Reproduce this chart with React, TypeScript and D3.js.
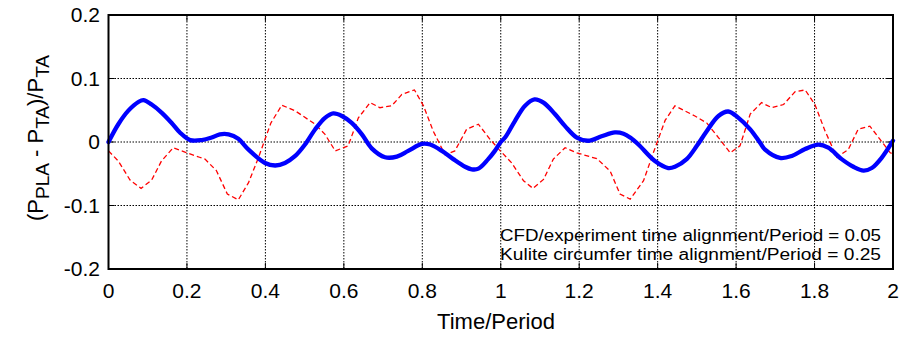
import React from "react";
import * as d3 from "d3";

const xTicks = [0, 0.2, 0.4, 0.6, 0.8, 1, 1.2, 1.4, 1.6, 1.8, 2];
const xTickLabels = ["0", "0.2", "0.4", "0.6", "0.8", "1", "1.2", "1.4", "1.6", "1.8", "2"];
const yTicks = [-0.2, -0.1, 0, 0.1, 0.2];
const yTickLabels = ["-0.2", "-0.1", "0", "0.1", "0.2"];

const cfdTime = [
  0.0, 0.025, 0.05, 0.076, 0.089, 0.11, 0.136, 0.161, 0.182, 0.208, 0.238, 0.263, 0.284, 0.306, 0.331,
  0.357, 0.399, 0.425, 0.45, 0.476, 0.501, 0.527, 0.552, 0.573, 0.595, 0.62, 0.646, 0.671, 0.705, 0.735,
  0.764, 0.799, 0.82, 0.85, 0.879, 0.909, 0.926, 0.943, 0.968, 0.985, 1.0,
  1.011, 1.036, 1.062, 1.086, 1.109, 1.138, 1.164, 1.194, 1.223, 1.257, 1.291, 1.313, 1.33, 1.351, 1.393,
  1.427, 1.444, 1.474, 1.5, 1.525, 1.555, 1.58, 1.606, 1.636, 1.661, 1.674, 1.712, 1.742, 1.776, 1.81,
  1.835, 1.869, 1.899, 1.925, 1.946, 1.971, 2.0,
];
const cfdValues = [
  0.0, 0.028, 0.049, 0.063, 0.066, 0.059, 0.046, 0.03, 0.015, 0.003, 0.003, 0.007, 0.012, 0.012, 0.005,
  -0.012, -0.033, -0.037, -0.033, -0.022, -0.004, 0.02, 0.038, 0.045, 0.041, 0.03, 0.012, -0.01, -0.024, -0.023,
  -0.014, -0.003, -0.004, -0.014, -0.027, -0.039, -0.043, -0.042, -0.027, -0.014, 0.0,
  0.007, 0.033, 0.057, 0.067, 0.062, 0.044, 0.025, 0.007, 0.002, 0.009, 0.015, 0.013, 0.007, -0.004, -0.03,
  -0.041, -0.039, -0.027, -0.006, 0.017, 0.041, 0.048, 0.038, 0.02, -0.001, -0.012, -0.025, -0.022, -0.011, -0.004,
  -0.009, -0.027, -0.039, -0.045, -0.041, -0.025, 0.002,
];

const expTime = [
  0.0, 0.025, 0.055, 0.083, 0.11, 0.135, 0.165, 0.195, 0.232, 0.246, 0.275, 0.303, 0.331, 0.357, 0.382,
  0.414, 0.442, 0.476, 0.527, 0.552, 0.578, 0.611, 0.637, 0.667, 0.692, 0.722, 0.748, 0.78, 0.803, 0.828,
  0.858, 0.883, 0.913, 0.943, 0.973, 0.996,
  1.028, 1.058, 1.082, 1.109, 1.134, 1.164, 1.194, 1.232, 1.245, 1.279, 1.304, 1.33, 1.364, 1.389, 1.419,
  1.444, 1.495, 1.525, 1.555, 1.585, 1.61, 1.636, 1.665, 1.691, 1.721, 1.75, 1.776, 1.801, 1.827, 1.857,
  1.886, 1.911, 1.941, 1.967, 1.993, 2.0,
];
const expValues = [
  -0.014, -0.03, -0.06, -0.073, -0.06, -0.03, -0.009, -0.016, -0.024, -0.027, -0.045, -0.082, -0.091, -0.064, -0.025,
  0.03, 0.058, 0.049, 0.028, 0.012, -0.014, -0.006, 0.038, 0.062, 0.054, 0.057, 0.075, 0.082, 0.057, 0.017,
  -0.02, -0.014, 0.02, 0.028, 0.004, -0.012,
  -0.033, -0.061, -0.073, -0.059, -0.027, -0.009, -0.017, -0.024, -0.026, -0.046, -0.082, -0.09, -0.061, -0.017, 0.034,
  0.057, 0.041, 0.03, 0.007, -0.017, -0.006, 0.044, 0.062, 0.054, 0.059, 0.079, 0.082, 0.059, 0.017, -0.024,
  -0.012, 0.02, 0.025, 0.004, -0.017, -0.019,
];

const W = 903;
const H = 337;
const L = 108.5;
const R = 893;
const T = 15;
const B = 269;
const FONT = "Arial, 'Liberation Sans', Helvetica, sans-serif";

export default function App() {
  const x = d3.scaleLinear().domain([0, 2]).range([L, R]);
  const y = d3.scaleLinear().domain([-0.2, 0.2]).range([B, T]);

  const cfd = cfdTime.map((t, i) => [t, cfdValues[i]] as [number, number]);
  const exp = expTime.map((t, i) => [t, expValues[i]] as [number, number]);

  const smooth = d3
    .line<[number, number]>()
    .x((d) => x(d[0]))
    .y((d) => y(d[1]))
    .curve(d3.curveCatmullRom.alpha(0.5));
  const lin = d3
    .line<[number, number]>()
    .x((d) => x(d[0]))
    .y((d) => y(d[1]));

  return (
    <svg
      width={W}
      height={H}
      style={{ position: "absolute", left: 0, top: 0, background: "#fff" }}
      fontFamily={FONT}
    >
      <rect x={0} y={0} width={W} height={H} fill="#fff" />
      {/* grid */}
      {xTicks.slice(1, -1).map((t) => (
        <line key={"gx" + t} x1={x(t)} x2={x(t)} y1={T} y2={B} stroke="#000" strokeWidth={1} strokeDasharray="1.5,1.5" />
      ))}
      {yTicks.slice(1, -1).map((t) => (
        <line key={"gy" + t} x1={L} x2={R} y1={y(t)} y2={y(t)} stroke="#000" strokeWidth={1} strokeDasharray="1.5,1.5" />
      ))}
      {/* ticks */}
      {xTicks.map((t) => (
        <g key={"tx" + t}>
          <line x1={x(t)} x2={x(t)} y1={B} y2={B - 6} stroke="#000" strokeWidth={1} />
          <line x1={x(t)} x2={x(t)} y1={T} y2={T + 6} stroke="#000" strokeWidth={1} />
        </g>
      ))}
      {yTicks.map((t) => (
        <g key={"ty" + t}>
          <line x1={L} x2={L + 6} y1={y(t)} y2={y(t)} stroke="#000" strokeWidth={1} />
          <line x1={R} x2={R - 6} y1={y(t)} y2={y(t)} stroke="#000" strokeWidth={1} />
        </g>
      ))}
      {/* lines */}
      <path d={lin(exp) || ""} fill="none" stroke="#ff0000" strokeWidth={1.3} strokeDasharray="5,3" />
      <path d={smooth(cfd) || ""} fill="none" stroke="#0000ff" strokeWidth={4.3} strokeLinejoin="round" strokeLinecap="round" />
      {/* box */}
      <rect x={L} y={T} width={R - L} height={B - T} fill="none" stroke="#000" strokeWidth={2} />
      {/* tick labels */}
      {xTicks.map((t, i) => (
        <text key={"lx" + t} x={x(t)} y={298} fontSize={21} textAnchor="middle" fill="#000">
          {xTickLabels[i]}
        </text>
      ))}
      {yTicks.map((t, i) => (
        <text key={"ly" + t} x={100} y={y(t) + 7} fontSize={21} textAnchor="end" fill="#000">
          {yTickLabels[i]}
        </text>
      ))}
      {/* axis labels */}
      <text x={496} y={329} fontSize={22} textAnchor="middle" fill="#000">
        Time/Period
      </text>
      <text transform={`translate(43, 138) rotate(-90)`} fontSize={22} textAnchor="middle" fill="#000">
        (P
        <tspan baselineShift="-30%" fontSize={19}>PLA</tspan>
        <tspan> - P</tspan>
        <tspan baselineShift="-30%" fontSize={19}>TA</tspan>
        <tspan>)/P</tspan>
        <tspan baselineShift="-30%" fontSize={19}>TA</tspan>
      </text>
      {/* annotation */}
      <text x={500} y={241} fontSize={16} fill="#000" textLength={381} lengthAdjust="spacingAndGlyphs">
        CFD/experiment time alignment/Period = 0.05
      </text>
      <text x={500} y={260} fontSize={16} fill="#000" textLength={381} lengthAdjust="spacingAndGlyphs">
        Kulite circumfer time alignment/Period = 0.25
      </text>
    </svg>
  );
}
